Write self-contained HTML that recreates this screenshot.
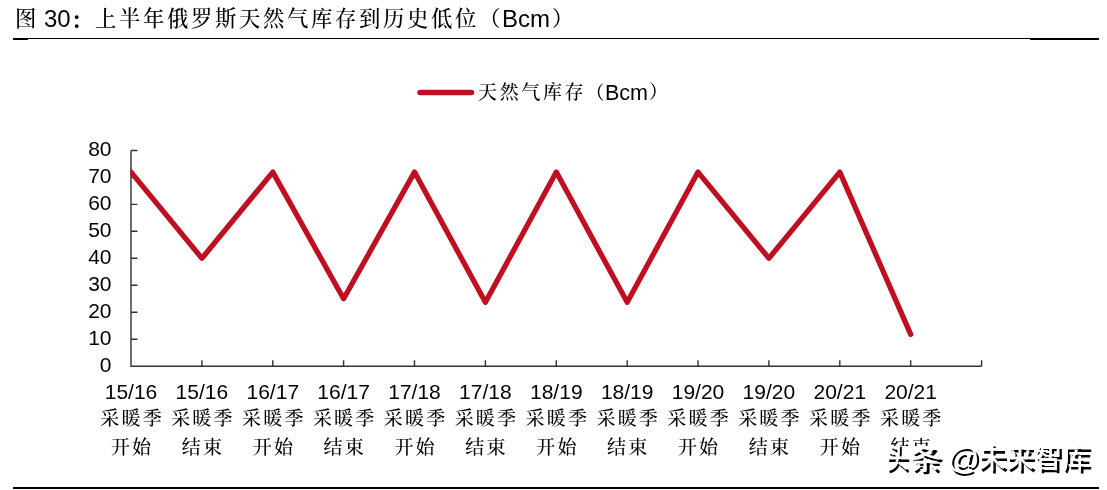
<!DOCTYPE html>
<html lang="zh-CN">
<head>
<meta charset="utf-8">
<title>图 30：上半年俄罗斯天然气库存到历史低位（Bcm）</title>
<style>
  html, body { margin: 0; padding: 0; background: #fff; }
  body { width: 1107px; height: 490px; position: relative; overflow: hidden; }
  .abs { position: absolute; white-space: nowrap; }
  .fs { font-family: "Liberation Serif", "Noto Serif CJK SC", serif; font-weight: 500; color: #000; }
  .ar { font-family: "Liberation Sans", "Noto Sans CJK SC", sans-serif; color: #000; }
  .wm { font-family: 'Liberation Sans','Noto Sans CJK SC',sans-serif; font-weight:500; font-size:28px; line-height:34px; color:#fff; text-shadow:2.5px 2.5px 0 #000; }
  .rule { position: absolute; background: #000; }
  .ylab { position: absolute; right: 995.5px; font-family: "Liberation Sans", sans-serif; font-size: 21px; line-height: 20px; color: #000; }
  .xl { position: absolute; width: 70px; margin-left: -35px; text-align: center; }
  .xl .n { font-family: "Liberation Sans", sans-serif; font-size: 21px; line-height: 26px; height: 26px; color: #000; }
  .xl .c + .c { position: relative; top: 1px; }
  .xl .c { font-family: "Liberation Serif", "Noto Serif CJK SC", serif; font-weight: 500; font-size: 19px; line-height: 28px; height: 28px; letter-spacing: 2.2px; text-indent: 2.2px; color: #000; }
</style>
</head>
<body>

<!-- Title -->
<div class="abs fs" style="left:15px; top:6px; font-size:21.33px; line-height:26px;">图</div>
<div class="abs ar" style="left:44px; top:6px; font-size:24px; line-height:26px;">30</div>
<div class="abs fs" style="left:71px; top:8px; font-size:21.33px; line-height:26px; font-weight:700;">：</div>
<div class="abs fs" style="left:95px; top:6px; font-size:21.33px; line-height:26px; letter-spacing:2.67px;">上半年俄罗斯天然气库存到历史低位</div>
<div class="abs fs" style="left:479px; top:6px; font-size:21.33px; line-height:26px;">（</div>
<div class="abs ar" style="left:502px; top:5.7px; font-size:24px; line-height:26px;">Bcm</div>
<div class="abs fs" style="left:552px; top:6px; font-size:21.33px; line-height:26px;">）</div>

<!-- Top rules -->
<div class="rule" style="left:13px; top:38px; width:1017px; height:1px;"></div>
<div class="rule" style="left:13px; top:38px; width:15px; height:2px;"></div>
<div class="rule" style="left:1030px; top:38px; width:69px; height:2px;"></div>

<!-- Bottom rule -->
<div class="rule" style="left:13px; top:487px; width:1086px; height:2px;"></div>

<!-- Legend -->
<svg class="abs" style="left:0; top:0;" width="1107" height="490" viewBox="0 0 1107 490">
  <line x1="420" y1="92.6" x2="471.5" y2="92.6" stroke="#BE1020" stroke-width="5.5" stroke-linecap="round"/>
</svg>
<div class="abs fs" style="left:478px; top:80px; font-size:19px; line-height:26px; letter-spacing:2.65px;">天然气库存</div>
<div class="abs fs" style="left:585.5px; top:81px; font-size:19px; line-height:26px;">（</div>
<div class="abs ar" style="left:605px; top:80px; font-size:21.5px; line-height:26px;">Bcm</div>
<div class="abs fs" style="left:649px; top:80px; font-size:19px; line-height:26px;">）</div>

<!-- Chart -->
<svg class="abs" style="left:0; top:0;" width="1107" height="490" viewBox="0 0 1107 490">
  <g stroke="#333" stroke-width="1.4" fill="none">
    <path d="M131 150.5 V366.2 H981.6"/>
    <path d="M131 150.5 h6.5 M131 177.4 h6.5 M131 204.4 h6.5 M131 231.3 h6.5 M131 258.3 h6.5 M131 285.2 h6.5 M131 312.2 h6.5 M131 339.2 h6.5"/>
    <path d="M201.9 366.2 v-6 M272.8 366.2 v-6 M343.6 366.2 v-6 M414.5 366.2 v-6 M485.4 366.2 v-6 M556.3 366.2 v-6 M627.2 366.2 v-6 M698.0 366.2 v-6 M768.9 366.2 v-6 M839.8 366.2 v-6 M910.7 366.2 v-6 M981.6 366.2 v-6"/>
  </g>
  <clipPath id="pc"><rect x="130.3" y="100" width="900" height="300"/></clipPath>
  <polyline clip-path="url(#pc)" fill="none" stroke="#BE1020" stroke-width="5.3" stroke-linejoin="round" stroke-linecap="round"
    points="131,172.1 201.9,258.3 272.8,172.1 343.6,298.8 414.5,172.1 485.4,302.3 556.3,172.1 627.2,302.3 698.0,172.1 768.9,258.3 839.8,172.1 910.7,334.4"/>
</svg>

<!-- Y labels -->
<div class="ylab" style="top:139.3px;">80</div>
<div class="ylab" style="top:166.3px;">70</div>
<div class="ylab" style="top:193.2px;">60</div>
<div class="ylab" style="top:220.2px;">50</div>
<div class="ylab" style="top:247.2px;">40</div>
<div class="ylab" style="top:274.1px;">30</div>
<div class="ylab" style="top:301.1px;">20</div>
<div class="ylab" style="top:328.0px;">10</div>
<div class="ylab" style="top:355.0px;">0</div>

<!-- X labels -->
<div class="xl" style="left:131px; top:379px;"><div class="n">15/16</div><div class="c">采暖季</div><div class="c">开始</div></div>
<div class="xl" style="left:201.9px; top:379px;"><div class="n">15/16</div><div class="c">采暖季</div><div class="c">结束</div></div>
<div class="xl" style="left:272.8px; top:379px;"><div class="n">16/17</div><div class="c">采暖季</div><div class="c">开始</div></div>
<div class="xl" style="left:343.6px; top:379px;"><div class="n">16/17</div><div class="c">采暖季</div><div class="c">结束</div></div>
<div class="xl" style="left:414.5px; top:379px;"><div class="n">17/18</div><div class="c">采暖季</div><div class="c">开始</div></div>
<div class="xl" style="left:485.4px; top:379px;"><div class="n">17/18</div><div class="c">采暖季</div><div class="c">结束</div></div>
<div class="xl" style="left:556.3px; top:379px;"><div class="n">18/19</div><div class="c">采暖季</div><div class="c">开始</div></div>
<div class="xl" style="left:627.2px; top:379px;"><div class="n">18/19</div><div class="c">采暖季</div><div class="c">结束</div></div>
<div class="xl" style="left:698.0px; top:379px;"><div class="n">19/20</div><div class="c">采暖季</div><div class="c">开始</div></div>
<div class="xl" style="left:768.9px; top:379px;"><div class="n">19/20</div><div class="c">采暖季</div><div class="c">结束</div></div>
<div class="xl" style="left:839.8px; top:379px;"><div class="n">20/21</div><div class="c">采暖季</div><div class="c">开始</div></div>
<div class="xl" style="left:910.7px; top:379px;"><div class="n">20/21</div><div class="c">采暖季</div><div class="c">结束</div></div>

<!-- Watermark -->
<div class="abs" style="left:884px; top:446px; width:212px; height:32px; background:#fff;"></div>
<div class="abs wm" style="left:886px; top:442px; transform:scaleX(0.8); transform-origin:0 0;">头</div>
<div class="abs wm" style="left:909px; top:442.5px; transform:scaleX(1.15); transform-origin:0 0;">条</div>
<div class="abs wm" style="left:947px; top:441px; font-size:32px;">@</div>
<div class="abs wm" style="left:978px; top:442px;">未来智库</div>

</body>
</html>
